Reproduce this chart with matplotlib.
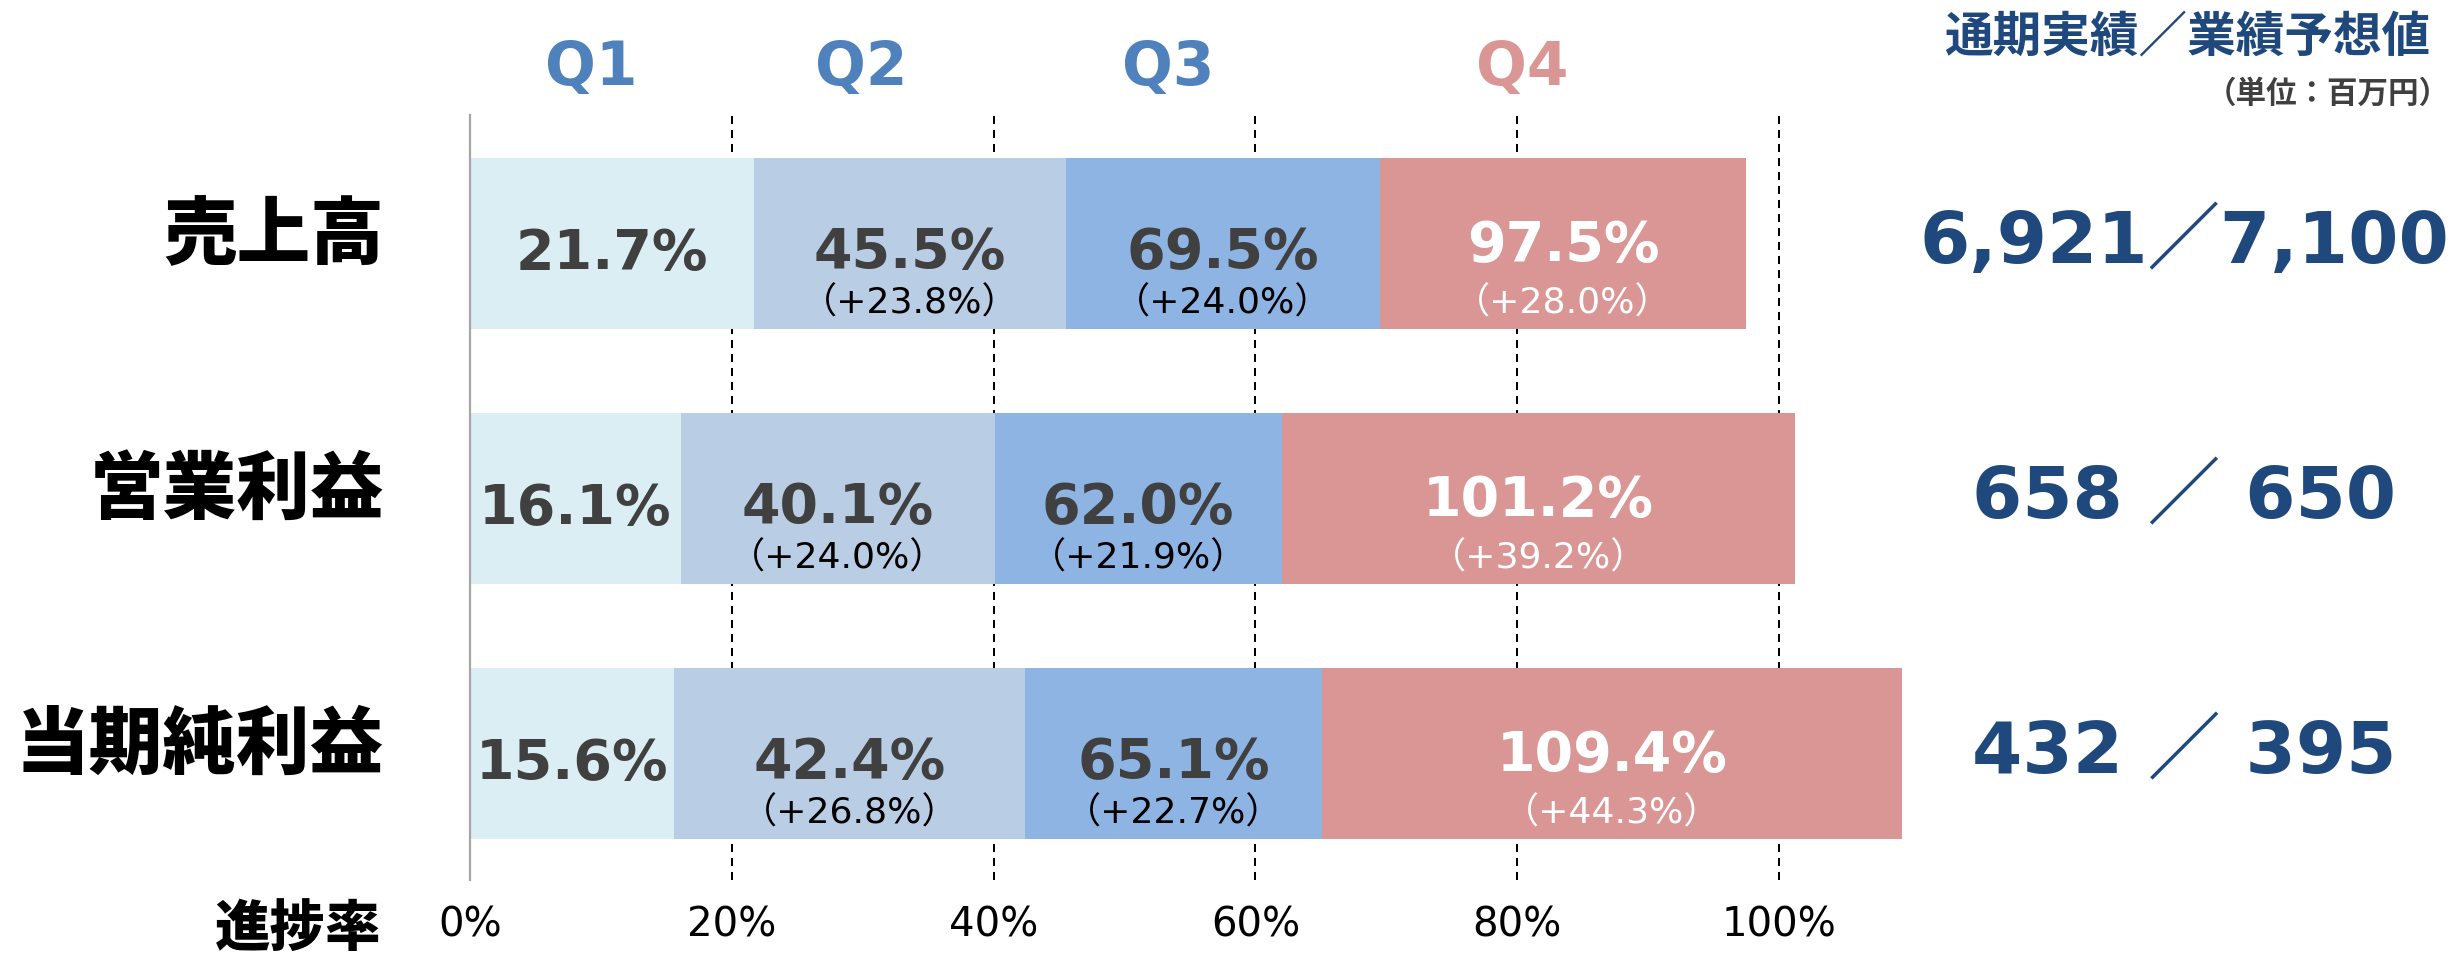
import matplotlib
matplotlib.use("Agg")
import matplotlib.pyplot as plt
import matplotlib.transforms as mtransforms

plt.rcParams['font.family'] = ['DejaVu Sans', 'Noto Sans CJK JP']

# ---------------- data ----------------
categories = ['売上高', '営業利益', '当期純利益']
quarters = ['Q1', 'Q2', 'Q3', 'Q4']
cum_q1 = [21.7, 16.1, 15.6]
cum_q2 = [45.5, 40.1, 42.4]
cum_q3 = [69.5, 62.0, 65.1]
cum_q4 = [97.5, 101.2, 109.4]
actual_values = ['6,921', '658', '432']
forecast_values = ['7,100', '650', '395']
value_separators = ['／', ' ／ ', ' ／ ']
tick_values = [0, 20, 40, 60, 80, 100]
tick_labels = ['0%', '20%', '40%', '60%', '80%', '100%']
header_title = '通期実績／業績予想値'
header_unit = '（単位：百万円）'
axis_title = '進捗率'

# ---------------- style ----------------
seg_colors = ['#DBEEF4', '#B9CDE5', '#8EB4E3', '#D99694']
q_title_colors = ['#4F81BD', '#4F81BD', '#4F81BD', '#D99694']
q_title_x = [9.3, 29.9, 53.3, 80.4]
label_colors = ['#404040', '#404040', '#404040', '#FFFFFF']
sub_colors = ['#000000', '#000000', '#000000', '#FFFFFF']
navy = '#1F497D'

W, H = 2456, 955
fig = plt.figure(figsize=(W / 100, H / 100), dpi=100)
x0_px, px100 = 470, 1309
xmax = 120
top_px, bot_px = 115, 880
ax = fig.add_axes([x0_px / W, 1 - bot_px / H, xmax / 100 * px100 / W, (bot_px - top_px) / H])
ax.set_xlim(0, xmax)
ax.set_ylim(2.496, -0.504)

cums = [cum_q1, cum_q2, cum_q3, cum_q4]
ypos = list(range(len(categories)))
bar_h = 0.667

# dashed grid lines
for t in tick_values[1:]:
    ax.axvline(t, color='#000000', lw=1.44, dashes=(4, 3), zorder=0.5)

for qi in range(4):
    lefts = [0] * 3 if qi == 0 else cums[qi - 1]
    widths = [c - l for c, l in zip(cums[qi], lefts)]
    ax.barh(ypos, widths, left=lefts, height=bar_h, color=seg_colors[qi],
            edgecolor='none', zorder=2)
    for ci in range(3):
        xc = lefts[ci] + widths[ci] / 2
        if qi == 0:
            ax.text(xc, ci + 0.10, f'{cums[qi][ci]:.1f}%', ha='center', va='baseline',
                    fontsize=40, fontweight='bold', color=label_colors[qi], zorder=3)
        else:
            dy = 0.067 if qi == 3 else 0.095
            ax.text(xc, ci + dy, f'{cums[qi][ci]:.1f}%', ha='center', va='baseline',
                    fontsize=40, fontweight='bold', color=label_colors[qi], zorder=3)
            ax.text(xc, ci + 0.275, f'（+{widths[ci]:.1f}%）', ha='center', va='baseline',
                    fontsize=26, color=sub_colors[qi], zorder=3)

# axes styling
for s in ['top', 'right', 'bottom']:
    ax.spines[s].set_visible(False)
ax.spines['left'].set_color('#A6A6A6')
ax.spines['left'].set_linewidth(1.6)
ax.spines['left'].set_zorder(4)
ax.set_yticks([])
ax.set_xticks(tick_values)
ax.set_xticklabels(tick_labels, fontsize=29, color='#000000')
ax.tick_params(axis='x', length=0, pad=18)

# category labels
fig_tr = fig.transFigure
for ci, name in enumerate(categories):
    tr = mtransforms.blended_transform_factory(fig_tr, ax.transData)
    ax.text(384 / W, ci - 0.03, name, transform=tr, ha='right', va='center',
            fontsize=53, fontweight='heavy', family='Noto Sans CJK JP', color='#000000')

# quarter titles
trq = mtransforms.blended_transform_factory(ax.transData, fig_tr)
for qi, q in enumerate(quarters):
    ax.text(q_title_x[qi], 1 - 85 / H, q, transform=trq, ha='center', va='baseline',
            fontsize=43, fontweight='bold', color=q_title_colors[qi])

# right side values
trr = mtransforms.blended_transform_factory(fig_tr, ax.transData)
for ci in range(3):
    ax.text(2184 / W, ci + 0.078, actual_values[ci] + value_separators[ci] + forecast_values[ci],
            transform=trr, ha='center', va='baseline', fontsize=52, fontweight='bold',
            color=navy)

# header
fig.text(2430 / W, 1 - 37 / H, header_title, ha='right', va='center', fontsize=35,
         fontweight='bold', family='Noto Sans CJK JP', color=navy)
fig.text(2450 / W, 1 - 94 / H, header_unit, ha='right', va='center', fontsize=22,
         fontweight='bold', family='Noto Sans CJK JP', color='#404040')

# axis title
fig.text(381 / W, 1 - 930 / H, axis_title, ha='right', va='center', fontsize=40,
         fontweight='heavy', family='Noto Sans CJK JP', color='#000000')

fig.savefig('out.png', dpi=100)
